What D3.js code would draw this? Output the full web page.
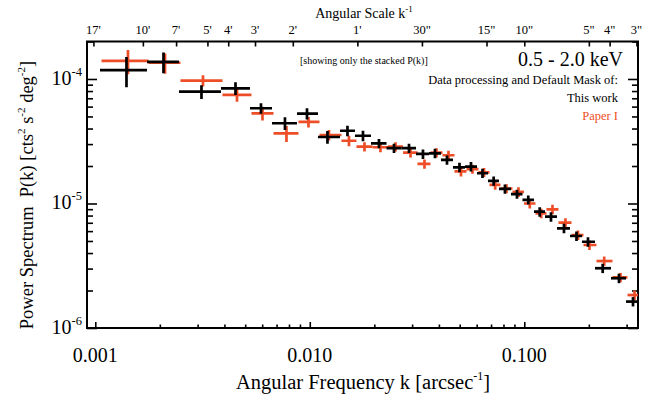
<!DOCTYPE html>
<html>
<head>
<meta charset="utf-8">
<script src="https://cdn.jsdelivr.net/npm/d3@7/dist/d3.min.js"></script>
<style>
  body { margin: 0; background: #fff; }
  text { font-family: "Liberation Serif", "Times New Roman", serif; fill: #000; }
</style>
</head>
<body>
<div id="vis"></div>
<script>
// bin edges and centres in angular frequency k [arcsec^-1]
const kEdges = [0.001052, 0.001742, 0.002456, 0.003855, 0.005263, 0.006666, 0.008716, 0.010920,
  0.013828, 0.016245, 0.019291, 0.022787, 0.026767, 0.031271, 0.035955, 0.040902, 0.046526,
  0.052927, 0.060197, 0.067735, 0.076215, 0.086696, 0.098085, 0.11097, 0.12489, 0.14207,
  0.16336, 0.18578, 0.21361, 0.25368, 0.29798, 0.34631];
const kMid = [0.001398, 0.002080, 0.003127, 0.004505, 0.005923, 0.007662, 0.009705, 0.012091,
  0.014987, 0.017703, 0.021018, 0.024702, 0.029013, 0.033708, 0.038344, 0.043620, 0.049886,
  0.056432, 0.063866, 0.071992, 0.081283, 0.092470, 0.10438, 0.11801, 0.13321, 0.15314,
  0.17517, 0.19815, 0.23205, 0.27635, 0.32129];

// "This work" (black)
const pWork = [1.18e-4, 1.37e-4, 7.91e-5, 8.42e-5, 5.82e-5, 4.41e-5, 5.27e-5, 3.42e-5,
  3.84e-5, 3.50e-5, 3.04e-5, 2.78e-5, 2.78e-5, 2.50e-5, 2.53e-5, 2.24e-5, 1.95e-5,
  1.98e-5, 1.75e-5, 1.52e-5, 1.31e-5, 1.19e-5, 1.07e-5, 8.59e-6, 7.83e-6, 6.32e-6,
  5.48e-6, 4.93e-6, 3.02e-6, 2.51e-6, 1.63e-6];
const errWork = [3.2e-5, 2.6e-5, 1.0e-5, 1.0e-5, 5.6e-6, 5.2e-6, 5.5e-6, 4.0e-6,
  3.7e-6, 3.4e-6, 2.6e-6, 2.4e-6, 2.4e-6, 2.2e-6, 2.2e-6, 1.9e-6, 1.7e-6,
  1.7e-6, 1.5e-6, 1.3e-6, 1.1e-6, 1.0e-6, 9.0e-7, 7.5e-7, 6.8e-7, 5.5e-7,
  4.8e-7, 4.3e-7, 2.6e-7, 2.2e-7, 1.4e-7];

// "Paper I" (red)
const pPaper = [1.40e-4, 1.35e-4, 9.69e-5, 7.44e-5, 5.30e-5, 3.66e-5, 4.52e-5, 3.55e-5,
  3.19e-5, 2.86e-5, 2.83e-5, 2.86e-5, 2.56e-5, 2.08e-5, 2.56e-5, 2.44e-5, 1.81e-5,
  1.89e-5, 1.78e-5, 1.41e-5, 1.32e-5, 1.24e-5, 1.00e-5, 8.34e-6, 8.98e-6, 7.01e-6,
  5.58e-6, 4.64e-6, 3.45e-6, 2.55e-6, 1.84e-6];
const errPaper = [3.1e-5, 2.5e-5, 1.0e-5, 8.7e-6, 6.7e-6, 5.4e-6, 4.4e-6, 3.4e-6,
  3.1e-6, 2.5e-6, 2.5e-6, 2.5e-6, 2.2e-6, 1.8e-6, 2.2e-6, 2.1e-6, 1.6e-6,
  1.6e-6, 1.5e-6, 1.2e-6, 1.1e-6, 1.1e-6, 8.7e-7, 7.2e-7, 7.8e-7, 6.1e-7,
  4.9e-7, 4.0e-7, 3.0e-7, 2.2e-7, 1.6e-7];

// axes
const xMajor = [0.001, 0.01, 0.1];
const xTickLabels = ["0.001", "0.010", "0.100"];
const yMajor = [1e-6, 1e-5, 1e-4];
const yExponents = ["-6", "-5", "-4"];
const topArcsec = [1020, 600, 420, 300, 240, 180, 120, 60, 30, 15, 10, 5, 4, 3];
const topLabels = ["17'", "10'", "7'", "5'", "4'", "3'", "2'", "1'", "30\"", "15\"", "10\"", "5\"", "4\"", "3\""];

const RED = "#ee4e27";
const W = 654, H = 399;
const m = {left: 87, right: 638, top: 41.5, bottom: 328};

const svg = d3.select("#vis").append("svg")
  .attr("width", W).attr("height", H);

const x = d3.scaleLog().domain([0.000915, 0.339]).range([m.left, m.right]);
const y = d3.scaleLog().domain([1e-6, 2e-4]).range([m.bottom, m.top]);

svg.append("defs").append("clipPath").attr("id", "clip")
  .append("rect").attr("x", m.left).attr("y", m.top)
  .attr("width", m.right - m.left).attr("height", m.bottom - m.top);

// ticks, all pointing inward
const xMinor = x.ticks().filter(v => !xMajor.includes(+v.toPrecision(3)));
const yMinor = y.ticks().filter(v => !yMajor.includes(+v.toPrecision(3)));

function tickAxis(axis, pos, values, size) {
  const g = svg.append("g").attr("transform", pos)
    .call(axis.tickValues(values).tickSize(-size).tickFormat(""));
  g.select(".domain").remove();
  g.selectAll(".tick line").attr("stroke", "#000").attr("stroke-width", 1.6);
  return g;
}
tickAxis(d3.axisBottom(x), `translate(0,${m.bottom})`, xMajor, 6);
tickAxis(d3.axisBottom(x), `translate(0,${m.bottom})`, xMinor, 3.5);
tickAxis(d3.axisTop(x), `translate(0,${m.top})`, topArcsec.map(a => 1 / a), 5);
tickAxis(d3.axisLeft(y), `translate(${m.left},0)`, yMajor, 10);
tickAxis(d3.axisLeft(y), `translate(${m.left},0)`, yMinor, 6);
tickAxis(d3.axisRight(y), `translate(${m.right},0)`, yMajor, 10);
tickAxis(d3.axisRight(y), `translate(${m.right},0)`, yMinor, 6);

// frame
svg.append("rect")
  .attr("x", m.left).attr("y", m.top)
  .attr("width", m.right - m.left).attr("height", m.bottom - m.top)
  .attr("fill", "none").attr("stroke", "#000").attr("stroke-width", 2);

// data crosses
function drawSeries(vals, errs, color, dx) {
  const g = svg.append("g").attr("clip-path", "url(#clip)")
    .attr("stroke", color).attr("stroke-width", 2.7).attr("fill", "none");
  g.selectAll("line.h").data(vals).enter().append("line")
    .attr("x1", (d, i) => x(kEdges[i]) + dx).attr("x2", (d, i) => x(kEdges[i + 1]) + dx)
    .attr("y1", d => y(d)).attr("y2", d => y(d));
  g.selectAll("line.v").data(vals).enter().append("line")
    .attr("x1", (d, i) => x(kMid[i]) + dx).attr("x2", (d, i) => x(kMid[i]) + dx)
    .attr("y1", (d, i) => y(d + errs[i])).attr("y2", (d, i) => y(Math.max(d - errs[i], 1e-7)));
}
drawSeries(pPaper, errPaper, RED, 1.5);
drawSeries(pWork, errWork, "#000", 0);

// bottom labels
svg.selectAll("text.xl").data(xMajor).enter().append("text")
  .attr("x", d => x(d)).attr("y", 362).attr("text-anchor", "middle")
  .attr("font-size", 20).text((d, i) => xTickLabels[i]);

// top labels
svg.selectAll("text.tl").data(topArcsec).enter().append("text")
  .attr("x", d => x(1 / d)).attr("y", 34).attr("text-anchor", "middle")
  .attr("font-size", 12.5).text((d, i) => topLabels[i]);

// y labels
yMajor.forEach((v, i) => {
  const t = svg.append("text").attr("x", 82).attr("y", y(v) + 6)
    .attr("text-anchor", "end").attr("font-size", 20);
  t.append("tspan").text("10");
  t.append("tspan").attr("font-size", 12.5).attr("dy", -9).text(yExponents[i]);
});

// axis titles
const xt = svg.append("text").attr("x", 363).attr("y", 389)
  .attr("text-anchor", "middle").attr("font-size", 20.5);
xt.append("tspan").text("Angular Frequency k [arcsec");
xt.append("tspan").attr("font-size", 12).attr("dy", -9).text("-1");
xt.append("tspan").attr("dy", 9).text("]");

const tt = svg.append("text").attr("x", 364).attr("y", 18)
  .attr("text-anchor", "middle").attr("font-size", 14);
tt.append("tspan").text("Angular Scale k");
tt.append("tspan").attr("font-size", 9).attr("dy", -6).text("-1");

const yt = svg.append("text")
  .attr("transform", "translate(33,195) rotate(-90)")
  .attr("text-anchor", "middle").attr("font-size", 18.5);
yt.append("tspan").text("Power Spectrum\u00a0\u00a0P(k) [cts");
yt.append("tspan").attr("font-size", 11).attr("dy", -8).text("2");
yt.append("tspan").attr("dy", 8).text(" s");
yt.append("tspan").attr("font-size", 11).attr("dy", -8).text("-2");
yt.append("tspan").attr("dy", 8).text(" deg");
yt.append("tspan").attr("font-size", 11).attr("dy", -8).text("-2");
yt.append("tspan").attr("dy", 8).text("]");

// annotations
svg.append("text").attr("x", 300).attr("y", 64).attr("font-size", 10)
  .text("[showing only the stacked P(k)]");
svg.append("text").attr("x", 623).attr("y", 66).attr("text-anchor", "end")
  .attr("font-size", 20).text("0.5 - 2.0 keV");
svg.append("text").attr("x", 618).attr("y", 84).attr("text-anchor", "end")
  .attr("font-size", 12.5).text("Data processing and Default Mask of:");
svg.append("text").attr("x", 618).attr("y", 102).attr("text-anchor", "end")
  .attr("font-size", 12.5).text("This work");
svg.append("text").attr("x", 618).attr("y", 120).attr("text-anchor", "end")
  .attr("font-size", 12.5).style("fill", RED).text("Paper I");
</script>
</body>
</html>
